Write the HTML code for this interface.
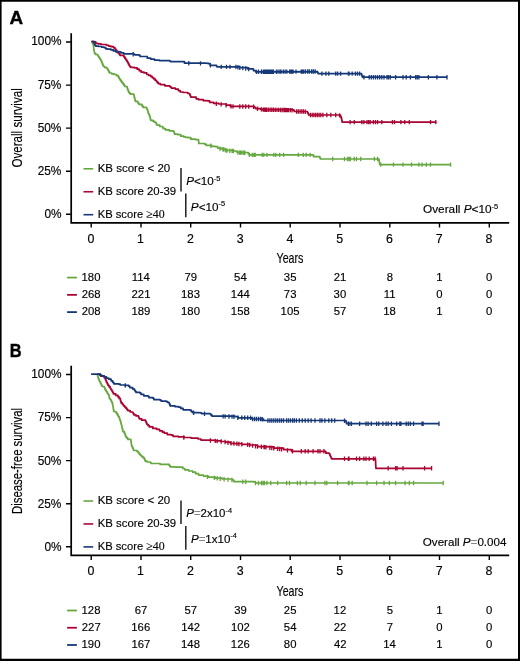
<!DOCTYPE html>
<html><head><meta charset="utf-8"><style>
html,body{margin:0;padding:0;background:#fff;}
body{width:520px;height:661px;overflow:hidden;}
svg{display:block;will-change:transform;}
text{font-family:"Liberation Sans", sans-serif;}
</style></head><body>
<svg width="520" height="661" viewBox="0 0 520 661">
<rect width="520" height="661" fill="#fff"/>
<path d="M0,0H520V661H0Z M1.6,1.7V658.8H518V1.7Z" fill="#000" fill-rule="evenodd"/>
<path d="M71.2,33.2 V222.8 H509.2" stroke="#000" stroke-width="1.7" fill="none"/>
<path d="M66,42.0H71.2M66,85.1H71.2M66,128.1H71.2M66,171.2H71.2M66,214.3H71.2" stroke="#000" stroke-width="1.4" fill="none"/>
<path d="M91.2,222.8V227.6M141.0,222.8V227.6M190.7,222.8V227.6M240.5,222.8V227.6M290.2,222.8V227.6M340.0,222.8V227.6M389.8,222.8V227.6M439.5,222.8V227.6M489.3,222.8V227.6" stroke="#000" stroke-width="1.4" fill="none"/>
<path d="M91.50,41.70 L92.60,41.70 L92.60,43.40 L93.00,43.40 L93.00,44.55 L93.40,44.55 L93.40,45.70 L93.53,45.70 L93.53,46.97 L93.67,46.97 L93.67,48.23 L93.80,48.23 L93.80,49.50 L94.03,49.50 L94.03,50.80 L94.27,50.80 L94.27,52.10 L94.50,52.10 L94.50,53.40 L95.70,53.40 L95.70,54.50 L97.60,54.50 L97.60,55.30 L98.20,55.30 L98.20,56.25 L98.80,56.25 L98.80,57.20 L99.55,57.20 L99.55,58.35 L100.30,58.35 L100.30,59.50 L101.05,59.50 L101.05,61.05 L101.80,61.05 L101.80,62.60 L102.33,62.60 L102.33,63.90 L102.87,63.90 L102.87,65.20 L103.40,65.20 L103.40,66.50 L104.90,66.50 L104.90,67.60 L106.80,67.60 L106.80,68.00 L107.40,68.00 L107.40,69.15 L108.00,69.15 L108.00,70.30 L108.75,70.30 L108.75,71.65 L109.50,71.65 L109.50,73.00 L111.80,73.00 L111.80,73.80 L114.20,73.80 L114.20,74.50 L116.50,74.50 L116.50,75.70 L118.40,75.70 L118.40,77.20 L119.15,77.20 L119.15,78.50 L119.90,78.50 L119.90,79.80 L120.87,79.80 L120.87,81.10 L121.83,81.10 L121.83,82.40 L122.80,82.40 L122.80,83.70 L123.75,83.70 L123.75,85.10 L124.70,85.10 L124.70,86.50 L127.10,86.50 L127.10,88.00 L127.60,88.00 L127.60,89.43 L128.10,89.43 L128.10,90.87 L128.60,90.87 L128.60,92.30 L129.55,92.30 L129.55,93.25 L130.50,93.25 L130.50,94.20 L133.80,94.20 L133.80,95.20 L134.10,95.20 L134.10,96.42 L134.40,96.42 L134.40,97.64 L134.70,97.64 L134.70,98.86 L135.00,98.86 L135.00,100.08 L135.30,100.08 L135.30,101.30 L137.70,101.30 L137.70,102.50 L138.40,102.50 L138.40,103.45 L139.10,103.45 L139.10,104.40 L142.00,104.40 L142.00,105.90 L143.00,105.90 L143.00,107.30 L146.30,107.30 L146.30,107.80 L146.80,107.80 L146.80,108.75 L147.30,108.75 L147.30,109.70 L147.63,109.70 L147.63,111.00 L147.97,111.00 L147.97,112.30 L148.30,112.30 L148.30,113.60 L149.00,113.60 L149.00,115.00 L149.70,115.00 L149.70,116.40 L150.03,116.40 L150.03,117.70 L150.37,117.70 L150.37,119.00 L150.70,119.00 L150.70,120.30 L153.10,120.30 L153.10,121.30 L154.55,121.30 L154.55,122.25 L156.00,122.25 L156.00,123.20 L156.45,123.20 L156.45,124.15 L156.90,124.15 L156.90,125.10 L159.80,125.10 L159.80,126.50 L162.70,126.50 L162.70,128.00 L164.15,128.00 L164.15,128.95 L165.60,128.95 L165.60,129.90 L169.40,129.90 L169.40,130.90 L170.00,130.90 L173.50,130.80 L173.50,131.50 L174.05,131.50 L174.05,132.85 L174.60,132.85 L174.60,134.20 L177.70,134.20 L177.70,134.60 L180.80,134.60 L180.80,136.20 L183.80,136.20 L183.80,136.90 L185.40,136.90 L185.40,137.30 L188.50,137.30 L188.50,137.70 L190.80,137.70 L190.80,139.20 L195.40,139.20 L195.40,139.60 L198.50,139.60 L198.50,140.80 L198.65,140.80 L198.65,142.15 L198.80,142.15 L198.80,143.50 L204.60,143.50 L204.60,144.20 L206.20,144.20 L206.20,145.40 L210.00,145.40 L211.90,145.40 L211.90,146.30 L215.40,146.30 L215.40,146.70 L217.70,146.70 L217.70,148.10 L221.10,148.10 L221.10,149.00 L223.50,149.00 L225.80,149.20 L225.80,150.40 L233.80,150.40 L233.80,151.00 L236.10,151.00 L236.10,151.50 L237.30,151.50 L237.30,152.50 L245.40,152.50 L248.30,152.70 L248.30,153.80 L249.40,153.80 L249.40,154.90 L312.30,154.90 L313.50,154.90 L313.50,156.70 L319.20,156.70 L319.80,156.70 L319.80,157.85 L320.40,157.85 L320.40,159.00 L378.70,159.00 L378.95,159.00 L378.95,160.40 L379.20,160.40 L379.20,161.80 L379.45,161.80 L379.45,163.20 L379.70,163.20 L379.70,164.60 L450.60,164.60" stroke="#66a840" stroke-width="1.7" fill="none" stroke-linejoin="round"/>
<path d="M210.8,143.6v4.4M220.0,146.5v4.4M222.9,147.0v4.4M224.0,147.3v4.4M225.8,148.2v4.4M226.9,148.3v4.4M229.8,148.5v4.4M232.1,148.7v4.4M233.3,148.8v4.4M237.9,150.3v4.4M239.6,150.4v4.4M240.8,150.4v4.4M241.9,150.4v4.4M243.6,150.5v4.4M244.8,150.5v4.4M249.4,152.7v4.4M252.3,152.7v4.4M254.0,152.7v4.4M255.2,152.7v4.4M262.1,152.7v4.4M263.8,152.7v4.4M266.9,152.7v4.4M273.8,152.7v4.4M275.8,152.7v4.4M279.7,152.7v4.4M283.6,152.7v4.4M298.3,152.7v4.4M303.3,152.7v4.4M306.2,152.7v4.4M310.1,152.7v4.4M332.7,156.8v4.4M344.5,156.8v4.4M347.5,156.8v4.4M349.0,156.8v4.4M350.4,156.8v4.4M354.3,156.8v4.4M356.5,156.8v4.4M360.7,156.8v4.4M374.4,156.8v4.4M377.6,156.8v4.4M380.8,162.4v4.4M393.5,162.4v4.4M403.0,162.4v4.4M411.5,162.4v4.4M418.9,162.4v4.4M422.0,162.4v4.4M426.3,162.4v4.4M430.5,162.4v4.4M450.6,162.4v4.4" stroke="#66a840" stroke-width="1.3" fill="none"/>
<path d="M91.50,41.70 L94.50,41.70 L95.70,41.80 L95.70,43.40 L98.00,43.40 L98.00,43.80 L101.10,43.80 L101.10,44.50 L104.20,44.50 L106.50,44.50 L106.50,45.30 L108.80,45.30 L108.80,46.10 L111.00,46.10 L111.00,46.60 L113.40,46.60 L113.40,47.60 L114.90,47.60 L114.90,48.80 L115.70,48.80 L115.70,49.75 L116.50,49.75 L116.50,50.70 L116.85,50.70 L116.85,51.65 L117.20,51.65 L117.20,52.60 L118.80,52.60 L118.80,53.40 L119.35,53.40 L119.35,54.35 L119.90,54.35 L119.90,55.30 L123.80,55.30 L123.80,56.70 L124.75,56.70 L124.75,58.15 L125.70,58.15 L125.70,59.60 L126.65,59.60 L126.65,61.05 L127.60,61.05 L127.60,62.50 L128.35,62.50 L128.35,63.95 L129.10,63.95 L129.10,65.40 L129.80,65.40 L129.80,66.35 L130.50,66.35 L130.50,67.30 L134.30,67.30 L134.30,67.80 L137.20,67.80 L137.20,69.20 L139.15,69.20 L139.15,70.65 L141.10,70.65 L141.10,72.10 L144.00,72.10 L144.00,72.90 L146.80,72.90 L146.80,74.50 L148.75,74.50 L148.75,75.45 L150.70,75.45 L150.70,76.40 L152.15,76.40 L152.15,77.60 L153.60,77.60 L153.60,78.80 L155.05,78.80 L155.05,80.25 L156.50,80.25 L156.50,81.70 L157.45,81.70 L157.45,82.70 L158.40,82.70 L158.40,83.70 L160.30,83.70 L160.30,84.60 L164.80,84.60 L164.80,85.80 L169.60,85.80 L169.60,86.30 L170.55,86.30 L170.55,87.25 L171.50,87.25 L171.50,88.20 L175.40,88.20 L175.40,89.10 L178.30,89.10 L178.30,90.60 L180.20,90.60 L180.20,92.00 L183.10,92.00 L183.10,92.50 L187.90,92.50 L187.90,93.50 L189.80,93.50 L189.80,94.90 L190.30,94.90 L190.30,96.00 L190.80,96.00 L190.80,97.10 L194.60,97.10 L196.10,97.10 L196.10,98.80 L198.50,98.80 L198.50,99.70 L203.30,99.70 L203.30,100.70 L205.00,100.70 L209.60,100.90 L209.60,102.30 L213.70,102.30 L213.70,103.40 L218.80,103.40 L218.80,104.00 L226.30,104.00 L226.30,105.20 L230.40,105.20 L230.40,106.40 L253.40,106.40 L254.55,106.60 L254.55,107.60 L255.70,107.60 L255.70,108.60 L260.40,108.60 L260.40,109.20 L262.00,109.20 L262.00,109.60 L293.10,109.60 L293.10,110.20 L294.20,110.20 L294.20,111.50 L304.60,111.50 L307.50,111.50 L307.50,112.70 L308.05,112.70 L308.05,113.85 L308.60,113.85 L308.60,115.00 L339.20,115.00 L340.40,115.00 L340.40,116.10 L340.95,116.10 L340.95,117.55 L341.50,117.55 L341.50,119.00 L341.80,119.00 L341.80,120.55 L342.10,120.55 L342.10,122.10 L436.40,122.10" stroke="#aa0532" stroke-width="1.7" fill="none" stroke-linejoin="round"/>
<path d="M216.3,101.5v4.4M221.2,102.2v4.4M226.1,103.0v4.4M231.0,104.2v4.4M233.0,104.2v4.4M239.8,104.3v4.4M242.8,104.3v4.4M245.7,104.3v4.4M248.7,104.4v4.4M253.6,104.6v4.4M257.5,106.6v4.4M261.4,107.2v4.4M263.2,107.4v4.4M264.3,107.4v4.4M265.5,107.5v4.4M266.6,107.5v4.4M268.3,107.5v4.4M270.1,107.6v4.4M271.8,107.6v4.4M273.5,107.6v4.4M275.3,107.7v4.4M277.0,107.7v4.4M278.7,107.7v4.4M280.5,107.8v4.4M282.2,107.8v4.4M283.9,107.8v4.4M285.1,107.8v4.4M286.2,107.9v4.4M287.4,107.9v4.4M288.5,107.9v4.4M290.3,107.9v4.4M292.0,108.0v4.4M296.6,109.3v4.4M298.3,109.3v4.4M300.1,109.3v4.4M301.8,109.3v4.4M303.5,109.3v4.4M305.3,109.6v4.4M310.4,112.8v4.4M312.2,112.8v4.4M313.9,112.8v4.4M315.6,112.8v4.4M317.4,112.8v4.4M319.1,112.8v4.4M320.8,112.8v4.4M322.9,112.8v4.4M326.8,112.8v4.4M330.8,112.8v4.4M335.7,112.8v4.4M339.6,113.2v4.4M350.1,119.9v4.4M354.3,119.9v4.4M361.8,119.9v4.4M363.9,119.9v4.4M367.0,119.9v4.4M368.6,119.9v4.4M370.2,119.9v4.4M373.4,119.9v4.4M375.5,119.9v4.4M377.6,119.9v4.4M381.8,119.9v4.4M392.4,119.9v4.4M394.5,119.9v4.4M400.9,119.9v4.4M404.7,119.9v4.4M409.3,119.9v4.4M430.5,119.9v4.4M435.8,119.9v4.4" stroke="#aa0532" stroke-width="1.3" fill="none"/>
<path d="M91.50,41.70 L93.80,41.70 L93.80,42.60 L94.35,42.60 L94.35,43.95 L94.90,43.95 L94.90,45.30 L95.70,45.30 L95.70,46.10 L98.80,46.10 L98.80,46.50 L101.80,46.50 L101.80,47.20 L104.20,47.20 L104.20,47.60 L105.70,47.60 L105.70,48.80 L108.00,48.80 L108.00,49.20 L111.00,49.20 L111.00,49.90 L113.40,49.90 L113.40,50.90 L115.70,50.90 L115.70,51.70 L118.00,51.70 L120.90,51.90 L120.90,52.90 L123.80,52.90 L123.80,53.80 L132.40,53.80 L133.90,54.00 L134.80,54.30 L134.80,54.80 L139.20,54.80 L139.20,55.30 L140.10,55.30 L140.10,56.50 L146.40,56.50 L147.30,56.70 L147.30,58.20 L150.70,58.20 L150.70,59.10 L154.50,59.10 L154.50,60.10 L159.30,60.10 L159.30,60.60 L169.60,60.60 L169.60,61.00 L170.60,61.00 L170.60,61.70 L182.60,61.70 L184.50,61.70 L184.50,63.20 L205.00,63.20 L208.50,63.40 L208.50,63.70 L210.20,63.70 L210.20,65.40 L216.50,65.40 L216.50,66.00 L217.10,66.00 L217.10,66.90 L236.10,66.90 L239.60,66.90 L239.60,67.70 L247.70,67.70 L247.70,68.80 L253.40,68.80 L253.40,70.60 L255.70,70.60 L255.70,71.90 L265.00,71.90 L317.00,71.70 L317.50,71.50 L317.50,72.55 L318.00,72.55 L318.00,73.60 L361.10,73.60 L361.53,73.60 L361.53,74.80 L361.97,74.80 L361.97,76.00 L362.40,76.00 L362.40,77.20 L447.00,77.20" stroke="#163878" stroke-width="1.7" fill="none" stroke-linejoin="round"/>
<path d="M133.2,52.0v4.4M188.8,61.0v4.4M200.5,61.2v4.4M210.4,63.2v4.4M221.2,64.7v4.4M226.5,64.7v4.4M230.0,64.7v4.4M235.9,64.7v4.4M237.9,65.1v4.4M239.8,65.5v4.4M242.8,65.9v4.4M245.7,66.3v4.4M248.7,66.9v4.4M256.5,69.7v4.4M258.5,69.6v4.4M261.4,69.6v4.4M263.2,69.5v4.4M264.3,69.5v4.4M265.5,69.5v4.4M266.6,69.5v4.4M267.8,69.5v4.4M268.9,69.5v4.4M270.1,69.5v4.4M271.2,69.5v4.4M272.4,69.5v4.4M273.5,69.5v4.4M276.4,69.5v4.4M278.1,69.4v4.4M279.9,69.4v4.4M281.0,69.4v4.4M283.3,69.4v4.4M285.1,69.4v4.4M286.8,69.4v4.4M289.7,69.4v4.4M290.8,69.4v4.4M292.0,69.4v4.4M293.1,69.4v4.4M296.0,69.4v4.4M301.2,69.4v4.4M302.4,69.4v4.4M303.5,69.4v4.4M305.3,69.3v4.4M307.6,69.3v4.4M309.3,69.3v4.4M311.6,69.3v4.4M313.3,69.3v4.4M315.1,69.3v4.4M321.9,71.4v4.4M325.9,71.4v4.4M328.8,71.4v4.4M335.7,71.4v4.4M337.6,71.4v4.4M340.6,71.4v4.4M348.4,71.4v4.4M349.0,71.4v4.4M352.2,71.4v4.4M355.4,71.4v4.4M357.5,71.4v4.4M359.6,71.4v4.4M363.9,75.0v4.4M369.2,75.0v4.4M371.3,75.0v4.4M373.4,75.0v4.4M375.5,75.0v4.4M377.6,75.0v4.4M379.7,75.0v4.4M381.8,75.0v4.4M384.0,75.0v4.4M387.0,75.0v4.4M388.5,75.0v4.4M390.3,75.0v4.4M395.6,75.0v4.4M403.0,75.0v4.4M406.2,75.0v4.4M410.4,75.0v4.4M415.7,75.0v4.4M417.3,75.0v4.4M418.9,75.0v4.4M428.4,75.0v4.4M436.9,75.0v4.4M447.0,75.0v4.4" stroke="#163878" stroke-width="1.3" fill="none"/>
<path d="M83.5,168.80H93.2" stroke="#66a840" stroke-width="1.6"/>
<path d="M67.1,277.60H76.9" stroke="#66a840" stroke-width="1.8"/>
<path d="M83.5,191.75H93.2" stroke="#aa0532" stroke-width="1.6"/>
<path d="M67.1,294.85H76.9" stroke="#aa0532" stroke-width="1.8"/>
<path d="M83.5,214.70H93.2" stroke="#163878" stroke-width="1.6"/>
<path d="M67.1,312.10H76.9" stroke="#163878" stroke-width="1.8"/>
<path d="M181,168.1V191.6M185.8,193.4V217.2" stroke="#111" stroke-width="1.4"/>
<path d="M71.2,365.7 V555.3 H509.2" stroke="#000" stroke-width="1.7" fill="none"/>
<path d="M66,374.5H71.2M66,417.6H71.2M66,460.6H71.2M66,503.7H71.2M66,546.8H71.2" stroke="#000" stroke-width="1.4" fill="none"/>
<path d="M91.2,555.3V560.1M141.0,555.3V560.1M190.7,555.3V560.1M240.5,555.3V560.1M290.2,555.3V560.1M340.0,555.3V560.1M389.8,555.3V560.1M439.5,555.3V560.1M489.3,555.3V560.1" stroke="#000" stroke-width="1.4" fill="none"/>
<path d="M97.20,374.40 L97.47,374.40 L97.47,375.50 L97.73,375.50 L97.73,376.60 L98.00,376.60 L98.00,377.70 L98.50,377.70 L98.50,378.97 L99.00,378.97 L99.00,380.23 L99.50,380.23 L99.50,381.50 L100.30,381.50 L100.30,383.05 L101.10,383.05 L101.10,384.60 L101.65,384.60 L101.65,385.55 L102.20,385.55 L102.20,386.50 L104.20,386.50 L104.20,387.30 L104.75,387.30 L104.75,388.65 L105.30,388.65 L105.30,390.00 L106.25,390.00 L106.25,391.55 L107.20,391.55 L107.20,393.10 L108.00,393.10 L108.00,394.25 L108.80,394.25 L108.80,395.40 L109.15,395.40 L109.15,396.95 L109.50,396.95 L109.50,398.50 L110.25,398.50 L110.25,399.50 L111.00,399.50 L111.00,400.50 L111.47,400.50 L111.47,401.60 L111.93,401.60 L111.93,402.70 L112.40,402.70 L112.40,403.80 L112.63,403.80 L112.63,405.08 L112.87,405.08 L112.87,406.37 L113.10,406.37 L113.10,407.65 L113.33,407.65 L113.33,408.93 L113.57,408.93 L113.57,410.22 L113.80,410.22 L113.80,411.50 L115.80,411.50 L115.80,412.50 L116.75,412.50 L116.75,413.95 L117.70,413.95 L117.70,415.40 L118.40,415.40 L118.40,416.60 L119.10,416.60 L119.10,417.80 L119.60,417.80 L119.60,419.23 L120.10,419.23 L120.10,420.67 L120.60,420.67 L120.60,422.10 L120.90,422.10 L120.90,423.23 L121.20,423.23 L121.20,424.37 L121.50,424.37 L121.50,425.50 L121.80,425.50 L121.80,426.74 L122.10,426.74 L122.10,427.98 L122.40,427.98 L122.40,429.22 L122.70,429.22 L122.70,430.46 L123.00,430.46 L123.00,431.70 L124.40,431.70 L124.40,433.20 L124.90,433.20 L124.90,434.47 L125.40,434.47 L125.40,435.73 L125.90,435.73 L125.90,437.00 L126.90,437.00 L126.90,438.20 L127.90,438.20 L127.90,439.40 L130.80,439.40 L130.80,440.40 L130.98,440.40 L130.98,441.56 L131.16,441.56 L131.16,442.72 L131.34,442.72 L131.34,443.88 L131.52,443.88 L131.52,445.04 L131.70,445.04 L131.70,446.20 L132.37,446.20 L132.37,447.63 L133.03,447.63 L133.03,449.07 L133.70,449.07 L133.70,450.50 L137.00,450.50 L137.00,451.40 L138.20,451.40 L138.20,452.85 L139.40,452.85 L139.40,454.30 L140.60,454.30 L140.60,455.50 L141.80,455.50 L141.80,456.70 L143.00,456.70 L143.00,457.70 L144.20,457.70 L144.20,458.70 L144.70,458.70 L144.70,459.90 L145.20,459.90 L145.20,461.10 L147.10,461.10 L147.10,462.00 L150.50,462.00 L150.50,462.50 L151.00,462.50 L151.00,463.50 L159.10,463.50 L160.10,463.50 L160.10,464.40 L168.30,464.40 L169.25,464.40 L169.25,465.60 L170.20,465.60 L170.20,466.80 L175.00,466.80 L175.00,467.10 L180.90,467.10 L182.85,467.20 L182.85,468.50 L184.80,468.50 L184.80,469.80 L188.75,469.80 L188.75,471.00 L192.70,471.00 L192.70,472.20 L195.65,472.20 L195.65,473.65 L198.60,473.65 L198.60,475.10 L203.50,475.10 L203.50,476.10 L208.40,476.10 L208.40,477.10 L215.30,477.10 L215.30,478.05 L222.20,478.05 L222.20,479.00 L232.00,479.00 L232.00,480.00 L233.90,480.00 L233.90,481.60 L253.60,481.60 L253.60,482.00 L255.50,482.00 L255.50,483.00 L443.50,483.00" stroke="#66a840" stroke-width="1.7" fill="none" stroke-linejoin="round"/>
<path d="M207.4,474.7v4.4M214.3,475.7v4.4M217.2,476.1v4.4M220.2,476.5v4.4M224.1,477.0v4.4M228.0,477.4v4.4M232.0,477.8v4.4M242.8,479.6v4.4M245.7,479.6v4.4M255.5,480.8v4.4M258.5,480.8v4.4M261.4,480.8v4.4M264.4,480.8v4.4M263.0,480.8v4.4M266.9,480.8v4.4M270.8,480.8v4.4M277.7,480.8v4.4M286.6,480.8v4.4M289.5,480.8v4.4M297.4,480.8v4.4M300.3,480.8v4.4M306.2,480.8v4.4M315.0,480.8v4.4M324.9,480.8v4.4M326.8,480.8v4.4M337.6,480.8v4.4M348.4,480.8v4.4M349.0,480.8v4.4M352.2,480.8v4.4M367.0,480.8v4.4M376.6,480.8v4.4M384.0,480.8v4.4M389.3,480.8v4.4M395.6,480.8v4.4M405.1,480.8v4.4M409.3,480.8v4.4M413.6,480.8v4.4M443.2,480.8v4.4" stroke="#66a840" stroke-width="1.3" fill="none"/>
<path d="M98.00,374.20 L99.50,373.80 L100.10,373.80 L100.10,375.00 L100.70,375.00 L100.70,376.20 L103.40,376.20 L104.35,376.20 L104.35,377.70 L105.30,377.70 L105.30,379.20 L105.90,379.20 L105.90,380.75 L106.50,380.75 L106.50,382.30 L107.25,382.30 L107.25,383.85 L108.00,383.85 L108.00,385.40 L109.15,385.40 L109.15,386.95 L110.30,386.95 L110.30,388.50 L111.05,388.50 L111.05,389.65 L111.80,389.65 L111.80,390.80 L112.60,390.80 L112.60,392.30 L113.40,392.30 L113.40,393.80 L115.70,393.80 L115.70,395.40 L118.00,395.40 L118.00,396.90 L119.15,396.90 L119.15,398.45 L120.30,398.45 L120.30,400.00 L120.70,400.00 L120.70,401.45 L121.10,401.45 L121.10,402.90 L122.30,402.90 L122.30,404.35 L123.50,404.35 L123.50,405.80 L124.70,405.80 L124.70,407.00 L125.90,407.00 L125.90,408.20 L126.85,408.20 L126.85,409.40 L127.80,409.40 L127.80,410.60 L130.20,410.60 L130.20,412.00 L132.60,412.00 L132.60,412.50 L133.30,412.50 L133.30,413.70 L134.00,413.70 L134.00,414.90 L136.00,414.90 L136.00,415.90 L138.40,415.90 L138.40,416.80 L138.85,416.80 L138.85,417.80 L139.30,417.80 L139.30,418.80 L141.70,418.80 L141.70,420.20 L145.60,420.20 L145.60,421.60 L146.30,421.60 L146.30,423.05 L147.00,423.05 L147.00,424.50 L148.20,424.50 L148.20,425.70 L149.40,425.70 L149.40,426.90 L152.90,426.90 L152.90,428.40 L156.70,428.40 L156.70,429.30 L159.60,429.30 L159.60,430.80 L162.50,430.80 L162.50,432.20 L164.40,432.20 L164.40,433.20 L167.30,433.20 L167.30,434.60 L171.20,434.60 L171.20,435.10 L173.10,435.10 L173.10,436.30 L175.00,436.30 L178.50,436.30 L178.50,436.90 L184.20,436.90 L184.20,437.50 L191.10,437.50 L191.10,438.10 L198.10,438.10 L198.10,439.00 L201.00,439.00 L201.00,440.10 L209.60,440.10 L215.40,440.40 L215.40,440.90 L221.10,440.90 L221.10,441.50 L225.70,441.50 L225.70,442.10 L230.40,442.10 L230.40,443.30 L235.00,443.30 L235.00,443.60 L241.80,443.60 L241.80,444.30 L249.70,444.30 L249.70,445.00 L257.50,445.00 L257.50,446.60 L262.00,446.60 L273.80,446.80 L273.80,448.20 L283.60,448.20 L283.60,449.60 L291.50,449.60 L291.50,451.30 L324.60,451.30 L325.80,451.30 L325.80,453.10 L329.20,453.10 L329.20,453.70 L329.77,453.70 L329.77,454.98 L330.35,454.98 L330.35,456.25 L330.93,456.25 L330.93,457.52 L331.50,457.52 L331.50,458.80 L375.40,458.80 L375.46,458.80 L375.46,459.99 L375.52,459.99 L375.52,461.18 L375.59,461.18 L375.59,462.36 L375.65,462.36 L375.65,463.55 L375.71,463.55 L375.71,464.74 L375.77,464.74 L375.77,465.93 L375.84,465.93 L375.84,467.11 L375.90,467.11 L375.90,468.30 L431.60,468.30" stroke="#aa0532" stroke-width="1.7" fill="none" stroke-linejoin="round"/>
<path d="M183.8,435.3v4.4M210.4,438.3v4.4M215.3,438.7v4.4M217.2,438.9v4.4M221.2,439.3v4.4M225.1,439.8v4.4M228.0,440.5v4.4M231.0,441.1v4.4M233.9,441.3v4.4M236.9,441.6v4.4M238.9,441.8v4.4M241.8,442.1v4.4M247.7,442.6v4.4M249.7,442.8v4.4M252.6,443.4v4.4M255.5,444.0v4.4M257.5,444.4v4.4M261.4,444.6v4.4M264.4,444.9v4.4M264.0,444.8v4.4M265.9,445.1v4.4M269.9,445.5v4.4M271.8,445.8v4.4M273.8,446.0v4.4M277.7,446.6v4.4M279.7,446.8v4.4M281.6,447.1v4.4M287.5,448.2v4.4M292.5,449.1v4.4M301.3,449.1v4.4M305.2,449.1v4.4M308.2,449.1v4.4M313.1,449.1v4.4M318.0,449.1v4.4M320.0,449.1v4.4M323.9,449.1v4.4M344.5,456.6v4.4M348.4,456.6v4.4M349.0,456.6v4.4M356.5,456.6v4.4M359.6,456.6v4.4M363.9,456.6v4.4M366.0,456.6v4.4M369.2,456.6v4.4M373.4,456.6v4.4M375.1,456.6v4.4M388.2,466.1v4.4M395.6,466.1v4.4M397.1,466.1v4.4M403.0,466.1v4.4M424.6,466.1v4.4M431.6,466.1v4.4" stroke="#aa0532" stroke-width="1.3" fill="none"/>
<path d="M91.10,374.20 L98.00,374.20 L99.50,374.20 L99.50,375.00 L101.80,375.00 L101.80,375.80 L104.20,375.80 L104.20,376.90 L106.50,376.90 L106.50,378.10 L108.80,378.10 L108.80,379.20 L111.10,379.20 L111.10,380.80 L112.60,380.80 L112.60,382.30 L113.80,382.30 L113.80,383.80 L118.80,383.80 L118.80,384.20 L120.30,384.20 L120.30,385.00 L124.90,385.00 L124.90,385.40 L126.00,385.40 L128.80,385.40 L128.80,386.20 L129.80,386.20 L129.80,387.60 L132.70,387.60 L132.70,389.10 L134.60,389.10 L134.60,390.50 L135.35,390.50 L135.35,391.45 L136.10,391.45 L136.10,392.40 L139.90,392.40 L139.90,392.90 L140.90,392.90 L140.90,394.30 L143.80,394.30 L143.80,395.80 L148.10,395.80 L148.10,396.30 L149.00,396.30 L149.00,397.70 L152.90,397.70 L152.90,398.20 L153.80,398.20 L153.80,399.60 L160.10,399.60 L160.10,400.10 L161.10,400.10 L161.10,401.10 L166.30,401.10 L166.30,401.60 L167.80,401.60 L167.80,402.50 L169.20,402.50 L169.20,403.50 L169.70,403.50 L169.70,404.70 L170.20,404.70 L170.20,405.90 L175.00,405.90 L175.00,406.60 L178.50,406.60 L178.50,407.10 L180.80,407.10 L180.80,408.45 L183.10,408.45 L183.10,409.80 L190.00,409.80 L190.00,410.10 L191.15,410.10 L191.15,411.35 L192.30,411.35 L192.30,412.60 L198.10,412.60 L201.50,412.90 L201.50,413.60 L209.60,413.60 L210.75,413.80 L210.75,414.95 L211.90,414.95 L211.90,416.10 L235.00,416.10 L235.00,416.70 L237.90,416.70 L237.90,417.80 L251.50,417.80 L252.10,417.80 L252.10,419.00 L261.90,419.00 L263.60,419.00 L263.60,420.50 L344.20,420.50 L346.00,420.50 L346.00,421.90 L346.50,421.90 L346.50,423.70 L439.00,423.70" stroke="#163878" stroke-width="1.7" fill="none" stroke-linejoin="round"/>
<path d="M292.6,418.3v4.4M294.3,418.3v4.4M125.3,383.2v4.4M193.7,410.5v4.4M204.5,411.5v4.4M223.1,414.2v4.4M225.1,414.2v4.4M229.0,414.3v4.4M232.0,414.4v4.4M233.9,414.5v4.4M237.9,415.6v4.4M241.8,415.6v4.4M244.7,415.6v4.4M247.7,415.6v4.4M250.6,415.6v4.4M252.6,416.8v4.4M254.6,416.8v4.4M256.5,416.8v4.4M258.5,416.8v4.4M260.5,416.8v4.4M262.4,417.2v4.4M262.0,416.9v4.4M267.9,418.3v4.4M269.9,418.3v4.4M271.8,418.3v4.4M273.8,418.3v4.4M275.8,418.3v4.4M277.7,418.3v4.4M279.7,418.3v4.4M281.6,418.3v4.4M283.6,418.3v4.4M286.6,418.3v4.4M288.5,418.3v4.4M290.5,418.3v4.4M296.4,418.3v4.4M299.3,418.3v4.4M302.3,418.3v4.4M305.2,418.3v4.4M308.2,418.3v4.4M311.1,418.3v4.4M315.0,418.3v4.4M320.0,418.3v4.4M321.9,418.3v4.4M324.9,418.3v4.4M328.8,418.3v4.4M331.7,418.3v4.4M334.7,418.3v4.4M344.5,418.5v4.4M348.4,421.5v4.4M351.4,421.5v4.4M349.0,421.5v4.4M351.2,421.5v4.4M359.6,421.5v4.4M366.0,421.5v4.4M368.1,421.5v4.4M371.3,421.5v4.4M376.6,421.5v4.4M378.7,421.5v4.4M382.9,421.5v4.4M386.1,421.5v4.4M388.2,421.5v4.4M391.4,421.5v4.4M396.7,421.5v4.4M399.8,421.5v4.4M400.9,421.5v4.4M406.2,421.5v4.4M408.3,421.5v4.4M410.4,421.5v4.4M413.6,421.5v4.4M422.0,421.5v4.4M423.1,421.5v4.4M439.0,421.5v4.4" stroke="#163878" stroke-width="1.3" fill="none"/>
<path d="M83.5,501.00H93.2" stroke="#66a840" stroke-width="1.6"/>
<path d="M67.1,610.50H76.9" stroke="#66a840" stroke-width="1.8"/>
<path d="M83.5,523.95H93.2" stroke="#aa0532" stroke-width="1.6"/>
<path d="M67.1,627.75H76.9" stroke="#aa0532" stroke-width="1.8"/>
<path d="M83.5,546.90H93.2" stroke="#163878" stroke-width="1.6"/>
<path d="M67.1,645.00H76.9" stroke="#163878" stroke-width="1.8"/>
<path d="M181,500.6V524.1M185.8,525.9V549.7" stroke="#111" stroke-width="1.4"/>
<text transform="translate(31.26,45.45) scale(0.9550,1)" font-family="Liberation Sans" font-size="12.4" font-weight="normal" font-style="normal" fill="#000" stroke="#000" stroke-width="0.15">100%</text>
<text transform="translate(37.70,88.55) scale(0.9550,1)" font-family="Liberation Sans" font-size="12.4" font-weight="normal" font-style="normal" fill="#000" stroke="#000" stroke-width="0.15">75%</text>
<text transform="translate(37.70,131.65) scale(0.9550,1)" font-family="Liberation Sans" font-size="12.4" font-weight="normal" font-style="normal" fill="#000" stroke="#000" stroke-width="0.15">50%</text>
<text transform="translate(37.70,174.75) scale(0.9550,1)" font-family="Liberation Sans" font-size="12.4" font-weight="normal" font-style="normal" fill="#000" stroke="#000" stroke-width="0.15">25%</text>
<text transform="translate(44.39,217.85) scale(0.9550,1)" font-family="Liberation Sans" font-size="12.4" font-weight="normal" font-style="normal" fill="#000" stroke="#000" stroke-width="0.15">0%</text>
<text transform="translate(87.40,242.55) scale(1.0000,1)" font-family="Liberation Sans" font-size="12.4" font-weight="normal" font-style="normal" fill="#000" stroke="#000" stroke-width="0.15">0</text>
<text transform="translate(137.03,242.55) scale(1.0000,1)" font-family="Liberation Sans" font-size="12.4" font-weight="normal" font-style="normal" fill="#000" stroke="#000" stroke-width="0.15">1</text>
<text transform="translate(187.04,242.55) scale(1.0000,1)" font-family="Liberation Sans" font-size="12.4" font-weight="normal" font-style="normal" fill="#000" stroke="#000" stroke-width="0.15">2</text>
<text transform="translate(236.81,242.55) scale(1.0000,1)" font-family="Liberation Sans" font-size="12.4" font-weight="normal" font-style="normal" fill="#000" stroke="#000" stroke-width="0.15">3</text>
<text transform="translate(286.56,242.55) scale(1.0000,1)" font-family="Liberation Sans" font-size="12.4" font-weight="normal" font-style="normal" fill="#000" stroke="#000" stroke-width="0.15">4</text>
<text transform="translate(336.20,242.55) scale(1.0000,1)" font-family="Liberation Sans" font-size="12.4" font-weight="normal" font-style="normal" fill="#000" stroke="#000" stroke-width="0.15">5</text>
<text transform="translate(386.08,242.55) scale(1.0000,1)" font-family="Liberation Sans" font-size="12.4" font-weight="normal" font-style="normal" fill="#000" stroke="#000" stroke-width="0.15">6</text>
<text transform="translate(435.84,242.55) scale(1.0000,1)" font-family="Liberation Sans" font-size="12.4" font-weight="normal" font-style="normal" fill="#000" stroke="#000" stroke-width="0.15">7</text>
<text transform="translate(485.60,242.55) scale(1.0000,1)" font-family="Liberation Sans" font-size="12.4" font-weight="normal" font-style="normal" fill="#000" stroke="#000" stroke-width="0.15">8</text>
<text transform="translate(276.51,262.65) scale(0.7514,1)" font-family="Liberation Sans" font-size="14.2" font-weight="normal" font-style="normal" fill="#000" stroke="#000" stroke-width="0.15">Years</text>
<text transform="translate(31.26,378.35) scale(0.9550,1)" font-family="Liberation Sans" font-size="12.4" font-weight="normal" font-style="normal" fill="#000" stroke="#000" stroke-width="0.15">100%</text>
<text transform="translate(37.70,421.45) scale(0.9550,1)" font-family="Liberation Sans" font-size="12.4" font-weight="normal" font-style="normal" fill="#000" stroke="#000" stroke-width="0.15">75%</text>
<text transform="translate(37.70,464.55) scale(0.9550,1)" font-family="Liberation Sans" font-size="12.4" font-weight="normal" font-style="normal" fill="#000" stroke="#000" stroke-width="0.15">50%</text>
<text transform="translate(37.70,507.65) scale(0.9550,1)" font-family="Liberation Sans" font-size="12.4" font-weight="normal" font-style="normal" fill="#000" stroke="#000" stroke-width="0.15">25%</text>
<text transform="translate(44.39,550.75) scale(0.9550,1)" font-family="Liberation Sans" font-size="12.4" font-weight="normal" font-style="normal" fill="#000" stroke="#000" stroke-width="0.15">0%</text>
<text transform="translate(87.40,575.45) scale(1.0000,1)" font-family="Liberation Sans" font-size="12.4" font-weight="normal" font-style="normal" fill="#000" stroke="#000" stroke-width="0.15">0</text>
<text transform="translate(137.03,575.45) scale(1.0000,1)" font-family="Liberation Sans" font-size="12.4" font-weight="normal" font-style="normal" fill="#000" stroke="#000" stroke-width="0.15">1</text>
<text transform="translate(187.04,575.45) scale(1.0000,1)" font-family="Liberation Sans" font-size="12.4" font-weight="normal" font-style="normal" fill="#000" stroke="#000" stroke-width="0.15">2</text>
<text transform="translate(236.81,575.45) scale(1.0000,1)" font-family="Liberation Sans" font-size="12.4" font-weight="normal" font-style="normal" fill="#000" stroke="#000" stroke-width="0.15">3</text>
<text transform="translate(286.56,575.45) scale(1.0000,1)" font-family="Liberation Sans" font-size="12.4" font-weight="normal" font-style="normal" fill="#000" stroke="#000" stroke-width="0.15">4</text>
<text transform="translate(336.20,575.45) scale(1.0000,1)" font-family="Liberation Sans" font-size="12.4" font-weight="normal" font-style="normal" fill="#000" stroke="#000" stroke-width="0.15">5</text>
<text transform="translate(386.08,575.45) scale(1.0000,1)" font-family="Liberation Sans" font-size="12.4" font-weight="normal" font-style="normal" fill="#000" stroke="#000" stroke-width="0.15">6</text>
<text transform="translate(435.84,575.45) scale(1.0000,1)" font-family="Liberation Sans" font-size="12.4" font-weight="normal" font-style="normal" fill="#000" stroke="#000" stroke-width="0.15">7</text>
<text transform="translate(485.60,575.45) scale(1.0000,1)" font-family="Liberation Sans" font-size="12.4" font-weight="normal" font-style="normal" fill="#000" stroke="#000" stroke-width="0.15">8</text>
<text transform="translate(276.51,595.55) scale(0.7514,1)" font-family="Liberation Sans" font-size="14.2" font-weight="normal" font-style="normal" fill="#000" stroke="#000" stroke-width="0.15">Years</text>
<text transform="translate(81.58,280.95) scale(1.0000,1)" font-family="Liberation Sans" font-size="11.3" font-weight="normal" font-style="normal" fill="#000" stroke="#000" stroke-width="0.15">180</text>
<text transform="translate(131.71,280.95) scale(1.0000,1)" font-family="Liberation Sans" font-size="11.3" font-weight="normal" font-style="normal" fill="#000" stroke="#000" stroke-width="0.15">114</text>
<text transform="translate(184.47,280.95) scale(1.0000,1)" font-family="Liberation Sans" font-size="11.3" font-weight="normal" font-style="normal" fill="#000" stroke="#000" stroke-width="0.15">79</text>
<text transform="translate(234.11,280.95) scale(1.0000,1)" font-family="Liberation Sans" font-size="11.3" font-weight="normal" font-style="normal" fill="#000" stroke="#000" stroke-width="0.15">54</text>
<text transform="translate(283.87,280.95) scale(1.0000,1)" font-family="Liberation Sans" font-size="11.3" font-weight="normal" font-style="normal" fill="#000" stroke="#000" stroke-width="0.15">35</text>
<text transform="translate(333.75,280.95) scale(1.0000,1)" font-family="Liberation Sans" font-size="11.3" font-weight="normal" font-style="normal" fill="#000" stroke="#000" stroke-width="0.15">21</text>
<text transform="translate(386.63,280.95) scale(1.0000,1)" font-family="Liberation Sans" font-size="11.3" font-weight="normal" font-style="normal" fill="#000" stroke="#000" stroke-width="0.15">8</text>
<text transform="translate(436.27,280.95) scale(1.0000,1)" font-family="Liberation Sans" font-size="11.3" font-weight="normal" font-style="normal" fill="#000" stroke="#000" stroke-width="0.15">1</text>
<text transform="translate(486.03,280.95) scale(1.0000,1)" font-family="Liberation Sans" font-size="11.3" font-weight="normal" font-style="normal" fill="#000" stroke="#000" stroke-width="0.15">0</text>
<text transform="translate(81.70,298.15) scale(1.0000,1)" font-family="Liberation Sans" font-size="11.3" font-weight="normal" font-style="normal" fill="#000" stroke="#000" stroke-width="0.15">268</text>
<text transform="translate(131.59,298.15) scale(1.0000,1)" font-family="Liberation Sans" font-size="11.3" font-weight="normal" font-style="normal" fill="#000" stroke="#000" stroke-width="0.15">221</text>
<text transform="translate(181.09,298.15) scale(1.0000,1)" font-family="Liberation Sans" font-size="11.3" font-weight="normal" font-style="normal" fill="#000" stroke="#000" stroke-width="0.15">183</text>
<text transform="translate(230.86,298.15) scale(1.0000,1)" font-family="Liberation Sans" font-size="11.3" font-weight="normal" font-style="normal" fill="#000" stroke="#000" stroke-width="0.15">144</text>
<text transform="translate(283.87,298.15) scale(1.0000,1)" font-family="Liberation Sans" font-size="11.3" font-weight="normal" font-style="normal" fill="#000" stroke="#000" stroke-width="0.15">73</text>
<text transform="translate(333.62,298.15) scale(1.0000,1)" font-family="Liberation Sans" font-size="11.3" font-weight="normal" font-style="normal" fill="#000" stroke="#000" stroke-width="0.15">30</text>
<text transform="translate(383.76,298.15) scale(1.0000,1)" font-family="Liberation Sans" font-size="11.3" font-weight="normal" font-style="normal" fill="#000" stroke="#000" stroke-width="0.15">11</text>
<text transform="translate(436.27,298.15) scale(1.0000,1)" font-family="Liberation Sans" font-size="11.3" font-weight="normal" font-style="normal" fill="#000" stroke="#000" stroke-width="0.15">0</text>
<text transform="translate(486.03,298.15) scale(1.0000,1)" font-family="Liberation Sans" font-size="11.3" font-weight="normal" font-style="normal" fill="#000" stroke="#000" stroke-width="0.15">0</text>
<text transform="translate(81.70,315.35) scale(1.0000,1)" font-family="Liberation Sans" font-size="11.3" font-weight="normal" font-style="normal" fill="#000" stroke="#000" stroke-width="0.15">208</text>
<text transform="translate(131.46,315.35) scale(1.0000,1)" font-family="Liberation Sans" font-size="11.3" font-weight="normal" font-style="normal" fill="#000" stroke="#000" stroke-width="0.15">189</text>
<text transform="translate(181.09,315.35) scale(1.0000,1)" font-family="Liberation Sans" font-size="11.3" font-weight="normal" font-style="normal" fill="#000" stroke="#000" stroke-width="0.15">180</text>
<text transform="translate(230.86,315.35) scale(1.0000,1)" font-family="Liberation Sans" font-size="11.3" font-weight="normal" font-style="normal" fill="#000" stroke="#000" stroke-width="0.15">158</text>
<text transform="translate(280.62,315.35) scale(1.0000,1)" font-family="Liberation Sans" font-size="11.3" font-weight="normal" font-style="normal" fill="#000" stroke="#000" stroke-width="0.15">105</text>
<text transform="translate(333.75,315.35) scale(1.0000,1)" font-family="Liberation Sans" font-size="11.3" font-weight="normal" font-style="normal" fill="#000" stroke="#000" stroke-width="0.15">57</text>
<text transform="translate(383.26,315.35) scale(1.0000,1)" font-family="Liberation Sans" font-size="11.3" font-weight="normal" font-style="normal" fill="#000" stroke="#000" stroke-width="0.15">18</text>
<text transform="translate(436.27,315.35) scale(1.0000,1)" font-family="Liberation Sans" font-size="11.3" font-weight="normal" font-style="normal" fill="#000" stroke="#000" stroke-width="0.15">1</text>
<text transform="translate(486.03,315.35) scale(1.0000,1)" font-family="Liberation Sans" font-size="11.3" font-weight="normal" font-style="normal" fill="#000" stroke="#000" stroke-width="0.15">0</text>
<text transform="translate(81.58,613.85) scale(1.0000,1)" font-family="Liberation Sans" font-size="11.3" font-weight="normal" font-style="normal" fill="#000" stroke="#000" stroke-width="0.15">128</text>
<text transform="translate(134.71,613.85) scale(1.0000,1)" font-family="Liberation Sans" font-size="11.3" font-weight="normal" font-style="normal" fill="#000" stroke="#000" stroke-width="0.15">67</text>
<text transform="translate(184.47,613.85) scale(1.0000,1)" font-family="Liberation Sans" font-size="11.3" font-weight="normal" font-style="normal" fill="#000" stroke="#000" stroke-width="0.15">57</text>
<text transform="translate(234.23,613.85) scale(1.0000,1)" font-family="Liberation Sans" font-size="11.3" font-weight="normal" font-style="normal" fill="#000" stroke="#000" stroke-width="0.15">39</text>
<text transform="translate(283.87,613.85) scale(1.0000,1)" font-family="Liberation Sans" font-size="11.3" font-weight="normal" font-style="normal" fill="#000" stroke="#000" stroke-width="0.15">25</text>
<text transform="translate(333.62,613.85) scale(1.0000,1)" font-family="Liberation Sans" font-size="11.3" font-weight="normal" font-style="normal" fill="#000" stroke="#000" stroke-width="0.15">12</text>
<text transform="translate(386.63,613.85) scale(1.0000,1)" font-family="Liberation Sans" font-size="11.3" font-weight="normal" font-style="normal" fill="#000" stroke="#000" stroke-width="0.15">5</text>
<text transform="translate(436.27,613.85) scale(1.0000,1)" font-family="Liberation Sans" font-size="11.3" font-weight="normal" font-style="normal" fill="#000" stroke="#000" stroke-width="0.15">1</text>
<text transform="translate(486.03,613.85) scale(1.0000,1)" font-family="Liberation Sans" font-size="11.3" font-weight="normal" font-style="normal" fill="#000" stroke="#000" stroke-width="0.15">0</text>
<text transform="translate(81.83,631.05) scale(1.0000,1)" font-family="Liberation Sans" font-size="11.3" font-weight="normal" font-style="normal" fill="#000" stroke="#000" stroke-width="0.15">227</text>
<text transform="translate(131.34,631.05) scale(1.0000,1)" font-family="Liberation Sans" font-size="11.3" font-weight="normal" font-style="normal" fill="#000" stroke="#000" stroke-width="0.15">166</text>
<text transform="translate(181.22,631.05) scale(1.0000,1)" font-family="Liberation Sans" font-size="11.3" font-weight="normal" font-style="normal" fill="#000" stroke="#000" stroke-width="0.15">142</text>
<text transform="translate(230.98,631.05) scale(1.0000,1)" font-family="Liberation Sans" font-size="11.3" font-weight="normal" font-style="normal" fill="#000" stroke="#000" stroke-width="0.15">102</text>
<text transform="translate(283.87,631.05) scale(1.0000,1)" font-family="Liberation Sans" font-size="11.3" font-weight="normal" font-style="normal" fill="#000" stroke="#000" stroke-width="0.15">54</text>
<text transform="translate(333.75,631.05) scale(1.0000,1)" font-family="Liberation Sans" font-size="11.3" font-weight="normal" font-style="normal" fill="#000" stroke="#000" stroke-width="0.15">22</text>
<text transform="translate(386.63,631.05) scale(1.0000,1)" font-family="Liberation Sans" font-size="11.3" font-weight="normal" font-style="normal" fill="#000" stroke="#000" stroke-width="0.15">7</text>
<text transform="translate(436.27,631.05) scale(1.0000,1)" font-family="Liberation Sans" font-size="11.3" font-weight="normal" font-style="normal" fill="#000" stroke="#000" stroke-width="0.15">0</text>
<text transform="translate(486.03,631.05) scale(1.0000,1)" font-family="Liberation Sans" font-size="11.3" font-weight="normal" font-style="normal" fill="#000" stroke="#000" stroke-width="0.15">0</text>
<text transform="translate(81.58,648.25) scale(1.0000,1)" font-family="Liberation Sans" font-size="11.3" font-weight="normal" font-style="normal" fill="#000" stroke="#000" stroke-width="0.15">190</text>
<text transform="translate(131.46,648.25) scale(1.0000,1)" font-family="Liberation Sans" font-size="11.3" font-weight="normal" font-style="normal" fill="#000" stroke="#000" stroke-width="0.15">167</text>
<text transform="translate(181.09,648.25) scale(1.0000,1)" font-family="Liberation Sans" font-size="11.3" font-weight="normal" font-style="normal" fill="#000" stroke="#000" stroke-width="0.15">148</text>
<text transform="translate(230.86,648.25) scale(1.0000,1)" font-family="Liberation Sans" font-size="11.3" font-weight="normal" font-style="normal" fill="#000" stroke="#000" stroke-width="0.15">126</text>
<text transform="translate(283.87,648.25) scale(1.0000,1)" font-family="Liberation Sans" font-size="11.3" font-weight="normal" font-style="normal" fill="#000" stroke="#000" stroke-width="0.15">80</text>
<text transform="translate(333.88,648.25) scale(1.0000,1)" font-family="Liberation Sans" font-size="11.3" font-weight="normal" font-style="normal" fill="#000" stroke="#000" stroke-width="0.15">42</text>
<text transform="translate(383.26,648.25) scale(1.0000,1)" font-family="Liberation Sans" font-size="11.3" font-weight="normal" font-style="normal" fill="#000" stroke="#000" stroke-width="0.15">14</text>
<text transform="translate(436.27,648.25) scale(1.0000,1)" font-family="Liberation Sans" font-size="11.3" font-weight="normal" font-style="normal" fill="#000" stroke="#000" stroke-width="0.15">1</text>
<text transform="translate(486.03,648.25) scale(1.0000,1)" font-family="Liberation Sans" font-size="11.3" font-weight="normal" font-style="normal" fill="#000" stroke="#000" stroke-width="0.15">0</text>
<text transform="translate(9.46,23.75) scale(1.0809,1)" font-family="Liberation Sans" font-size="17.5" font-weight="bold" font-style="normal" fill="#000" stroke="#000" stroke-width="0.35">A</text>
<text transform="translate(9.85,356.75) scale(0.9209,1)" font-family="Liberation Sans" font-size="17.8" font-weight="bold" font-style="normal" fill="#000" stroke="#000" stroke-width="0.35">B</text>
<text transform="translate(22.05,167.61) rotate(-90) scale(0.8135,1)" font-family="Liberation Sans" font-size="14.3" font-weight="normal" font-style="normal" fill="#000" stroke="#000" stroke-width="0.15">Overall survival</text>
<text transform="translate(21.85,514.00) rotate(-90) scale(0.7962,1)" font-family="Liberation Sans" font-size="14.3" font-weight="normal" font-style="normal" fill="#000" stroke="#000" stroke-width="0.15">Disease-free survival</text>
<text transform="translate(97.68,172.05) scale(1.0186,1)" font-family="Liberation Sans" font-size="11.3" font-weight="normal" font-style="normal" fill="#000" stroke="#000" stroke-width="0.15">KB score &lt; 20</text>
<text transform="translate(97.69,195.05) scale(1.0085,1)" font-family="Liberation Sans" font-size="11.3" font-weight="normal" font-style="normal" fill="#000" stroke="#000" stroke-width="0.15">KB score 20-39</text>
<text transform="translate(97.71,218.15) scale(0.9917,1)" font-family="Liberation Sans" font-size="11.3" font-weight="normal" font-style="normal" fill="#000" stroke="#000" stroke-width="0.15">KB score <tspan font-family="Liberation Serif" font-size="12" fill="#000" stroke="#000" stroke-width="0.12">≥40</tspan></text>
<text transform="translate(97.68,504.35) scale(1.0186,1)" font-family="Liberation Sans" font-size="11.3" font-weight="normal" font-style="normal" fill="#000" stroke="#000" stroke-width="0.15">KB score &lt; 20</text>
<text transform="translate(97.69,527.35) scale(1.0085,1)" font-family="Liberation Sans" font-size="11.3" font-weight="normal" font-style="normal" fill="#000" stroke="#000" stroke-width="0.15">KB score 20-39</text>
<text transform="translate(97.71,550.45) scale(0.9917,1)" font-family="Liberation Sans" font-size="11.3" font-weight="normal" font-style="normal" fill="#000" stroke="#000" stroke-width="0.15">KB score <tspan font-family="Liberation Serif" font-size="12" fill="#000" stroke="#000" stroke-width="0.12">≥40</tspan></text>
<text transform="translate(186.14,185.35) scale(1.0308,1)" font-family="Liberation Sans" font-size="11.3" font-weight="normal" font-style="normal" fill="#000" stroke="#000" stroke-width="0.15"><tspan font-style="italic">P</tspan>&lt;10<tspan font-size="7.2" dy="-4.6">-5</tspan></text>
<text transform="translate(190.84,210.85) scale(1.0369,1)" font-family="Liberation Sans" font-size="11.3" font-weight="normal" font-style="normal" fill="#000" stroke="#000" stroke-width="0.15"><tspan font-style="italic">P</tspan>&lt;10<tspan font-size="7.2" dy="-4.6">-5</tspan></text>
<text transform="translate(422.98,213.35) scale(1.0470,1)" font-family="Liberation Sans" font-size="11.3" font-weight="normal" font-style="normal" fill="#000" stroke="#000" stroke-width="0.15">Overall <tspan font-style="italic">P</tspan>&lt;10<tspan font-size="7.2" dy="-4.6">-5</tspan></text>
<text transform="translate(186.25,517.25) scale(1.0168,1)" font-family="Liberation Sans" font-size="11.3" font-weight="normal" font-style="normal" fill="#000" stroke="#000" stroke-width="0.15"><tspan font-style="italic">P</tspan><tspan fill="#888" stroke="#888">=</tspan>2x10<tspan font-size="7.2" dy="-4.6">-4</tspan></text>
<text transform="translate(190.94,542.85) scale(1.0212,1)" font-family="Liberation Sans" font-size="11.3" font-weight="normal" font-style="normal" fill="#000" stroke="#000" stroke-width="0.15"><tspan font-style="italic">P</tspan><tspan fill="#888" stroke="#888">=</tspan>1x10<tspan font-size="7.2" dy="-4.6">-4</tspan></text>
<text transform="translate(422.79,545.55) scale(1.0298,1)" font-family="Liberation Sans" font-size="11.3" font-weight="normal" font-style="normal" fill="#000" stroke="#000" stroke-width="0.15">Overall <tspan font-style="italic">P</tspan><tspan fill="#888" stroke="#888">=</tspan>0.004</text>
</svg>
</body></html>
